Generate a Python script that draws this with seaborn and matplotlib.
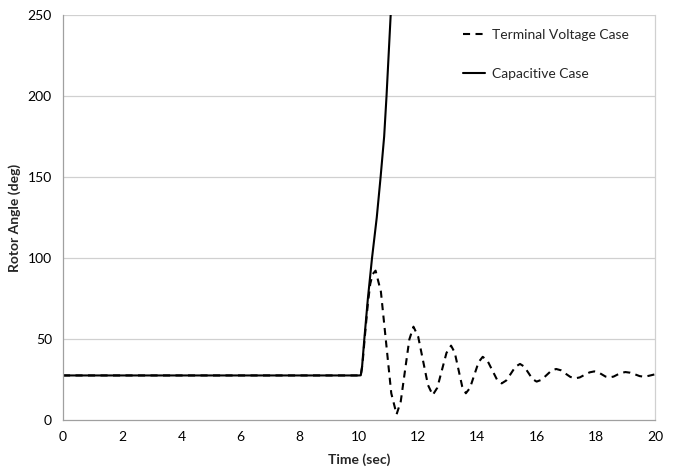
import matplotlib
matplotlib.use("Agg")
import matplotlib.pyplot as plt
import seaborn as sns
import pandas as pd

# Terminal Voltage Case (dashed)
t_terminal = [0, 10.0, 10.06, 10.12, 10.2, 10.3, 10.38, 10.46, 10.56,
              10.74, 10.915, 11.09, 11.27,
              11.41, 11.555, 11.70, 11.84,
              12.0, 12.165, 12.33, 12.49,
              12.645, 12.8, 12.955, 13.11,
              13.235, 13.36, 13.485, 13.61,
              13.75, 13.895, 14.04, 14.18,
              14.34, 14.5, 14.66, 14.82,
              14.975, 15.13, 15.285, 15.44,
              15.58, 15.72, 15.86, 16.0,
              16.165, 16.33, 16.495, 16.66,
              16.82, 16.98, 17.14, 17.3,
              17.46, 17.625, 17.79, 17.95,
              18.08, 18.2, 18.33, 18.46,
              18.6, 18.73, 18.87, 19.0,
              19.16, 19.32, 19.48, 19.64,
              19.82, 20.0]
v_terminal = [27.5, 27.5, 27.6, 35, 52, 72, 84, 90, 92.2,
              79.2, 47.9, 16.5, 3.5,
              11.4, 30.6, 49.7, 57.6,
              51.4, 36.5, 21.6, 15.4,
              19.9, 30.7, 41.4, 45.9,
              41.6, 31.2, 20.8, 16.5,
              19.8, 27.8, 35.7, 39.0,
              36.6, 30.8, 25.0, 22.6,
              24.4, 28.6, 32.9, 34.6,
              33.0, 29.2, 25.3, 23.7,
              24.8, 27.6, 30.4, 31.5,
              30.7, 28.6, 26.6, 25.7,
              26.3, 27.9, 29.4, 30.0,
              29.5, 28.2, 26.8, 26.3,
              26.8, 28.0, 29.1, 29.6,
              29.2, 28.2, 27.1, 26.7,
              27.4, 28.2]

# Capacitive Case (solid)
t_capacitive = [0, 10.0, 10.06, 10.1, 10.18, 10.3, 10.44, 10.6, 10.73,
                10.85, 10.93, 11.0, 11.07, 11.12]
v_capacitive = [27.5, 27.5, 27.6, 32, 50, 75, 100, 125, 150,
                175, 200, 225, 250, 270]

x_ticks = [0, 2, 4, 6, 8, 10, 12, 14, 16, 18, 20]
y_ticks = [0, 50, 100, 150, 200, 250]

sns.set_style("white")
plt.rcParams['font.family'] = ['Lato', 'DejaVu Sans']

df_t = pd.DataFrame({"Time": t_terminal, "Angle": v_terminal})
df_c = pd.DataFrame({"Time": t_capacitive, "Angle": v_capacitive})

fig = plt.figure(figsize=(6.73, 4.68), dpi=100)
ax = fig.add_axes([63/673, 1-420/468, (655-63)/673, (420-15)/468])

grid_col = "#d0d0d0"
for y in y_ticks[1:]:
    ax.axhline(y, color=grid_col, lw=0.9, zorder=0)

sns.lineplot(data=df_t, x="Time", y="Angle", ax=ax, color="black", lw=1.5,
             label="Terminal Voltage Case", sort=False, estimator=None)
ax.lines[-1].set_dashes([3.4, 2.6])
sns.lineplot(data=df_c, x="Time", y="Angle", ax=ax, color="black", lw=1.5,
             label="Capacitive Case", sort=False, estimator=None)

ax.set_xlim(0, 20)
ax.set_ylim(0, 250)
ax.set_xticks(x_ticks)
ax.set_yticks(y_ticks)
ax.set_xticklabels([str(v) for v in x_ticks])
ax.set_yticklabels([str(v) for v in y_ticks])
ax.tick_params(axis="both", which="major", labelsize=10, colors="#000000",
               length=4, width=0.9, direction="out", color="#a0a0a0", pad=4)

for side in ["left", "bottom"]:
    ax.spines[side].set_color("#a0a0a0")
    ax.spines[side].set_linewidth(0.9)
ax.spines["right"].set_color(grid_col)
ax.spines["right"].set_linewidth(0.9)
ax.spines["top"].set_visible(False)

ax.set_xlabel("Time (sec)", fontsize=10, fontweight="bold", labelpad=7)
ax.set_ylabel("Rotor Angle (deg)", fontsize=10, fontweight="bold", labelpad=5)

leg = ax.legend(loc="upper left", bbox_to_anchor=(0.655, 0.997), frameon=False,
                fontsize=10, labelspacing=1.95, handlelength=1.6, handletextpad=0.5)

fig.savefig("out.png", dpi=100)
